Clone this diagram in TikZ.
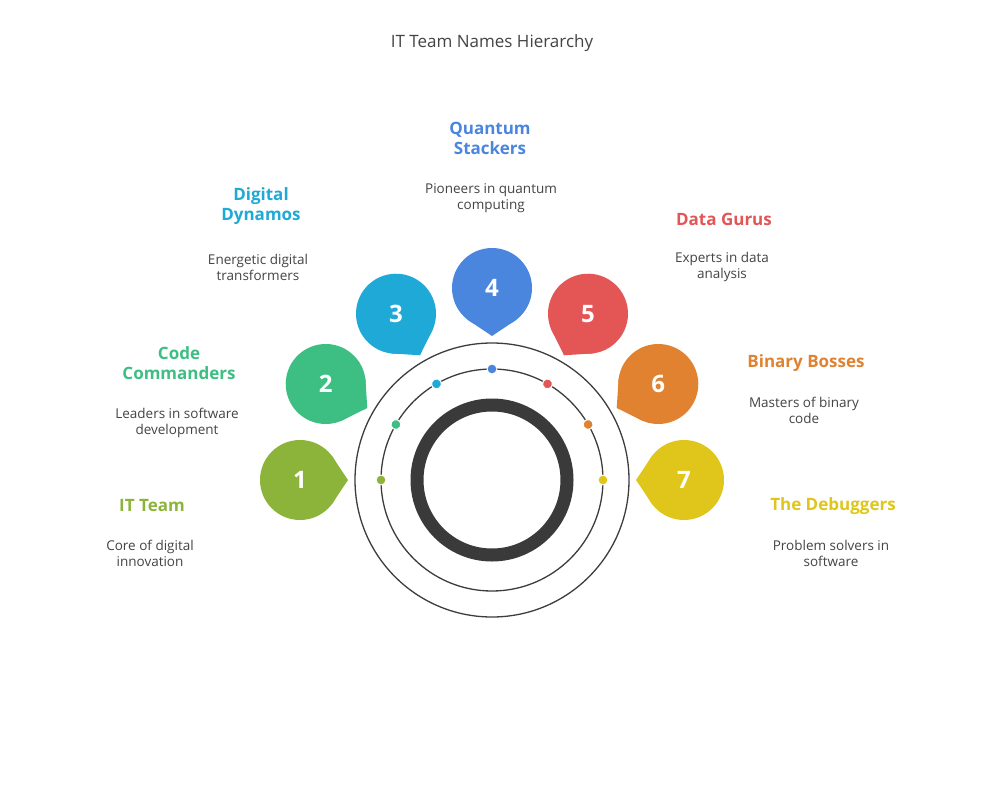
\documentclass[tikz,border=0pt]{standalone}
\usepackage{fontspec}
\setmainfont{Open Sans}
\usetikzlibrary{positioning, calc}
\definecolor{cOne}{HTML}{8DB43A}
\definecolor{cTwo}{HTML}{3DBE82}
\definecolor{cThree}{HTML}{1FA9D6}
\definecolor{cFour}{HTML}{4A86DE}
\definecolor{cFive}{HTML}{E45555}
\definecolor{cSix}{HTML}{E0822F}
\definecolor{cSeven}{HTML}{E0C61A}
\definecolor{ink}{HTML}{444444}
\tikzset{
  ring/.style={draw=ink!90!black, line width=1.3pt},
  teamname/.style={font=\bfseries\fontsize{17}{20}\selectfont, align=center},
  teamdesc/.style={text=ink, font=\fontsize{13.5}{16}\selectfont, align=center},
  bubbletext/.style={text=white, font=\bfseries\fontsize{24}{26}\selectfont},
}
\begin{document}
\begin{tikzpicture}[x=1pt,y=-1pt]
  \useasboundingbox[fill=white] (0,0) rectangle (985,792);
  \node[text=ink, font=\fontsize{17}{20}\selectfont] (title) at (492,43) {IT Team Names Hierarchy};
  \coordinate (hub) at (492,480);
  % rings
  \draw[ring] (hub) circle (137);
  \draw[ring] (hub) circle (111);
  \draw[draw=ink!85!black, line width=13pt] (hub) circle (75);
  % bubbles
  \foreach \i/\a/\c in {1/180/cOne, 2/150/cTwo, 3/120/cThree, 4/90/cFour, 5/60/cFive, 6/30/cSix, 7/0/cSeven} {
    \begin{scope}[shift={(hub)}, rotate=\a]
      \fill[\c] (192,0) circle (40);
      \fill[\c] ($(192,0)+(-142:40)$) -- (144,0) -- ($(192,0)+(142:40)$) -- cycle;
      \filldraw[fill=\c, draw=white, line width=1pt] (111,0) circle (5);
      \node[bubbletext] (b\i) at (192,0) {\i};
    \end{scope}
  }
  % labels
  \node[teamname, text=cOne] (n1) at (152,506) {IT Team};
  \node[teamdesc] (d1) at (150,553) {Core of digital\\innovation};
  \node[teamname, text=cTwo] (n2) at (179,363) {Code\\Commanders};
  \node[teamdesc] (d2) at (177,423) {Leaders in software\\development};
  \node[teamname, text=cThree] (n3) at (261,206) {Digital\\Dynamos};
  \node[teamdesc] (d3) at (258,267) {Energetic digital\\transformers};
  \node[teamname, text=cFour] (n4) at (490,138) {Quantum\\Stackers};
  \node[teamdesc] (d4) at (491,198) {Pioneers in quantum\\computing};
  \node[teamname, text=cFive] (n5) at (724,219) {Data Gurus};
  \node[teamdesc] (d5) at (722,267) {Experts in data\\analysis};
  \node[teamname, text=cSix] (n6) at (806,363) {Binary Bosses};
  \node[teamdesc] (d6) at (804,410) {Masters of binary\\code};
  \node[teamname, text=cSeven] (n7) at (833,506) {The Debuggers};
  \node[teamdesc] (d7) at (831,553) {Problem solvers in\\software};
\end{tikzpicture}
\end{document}
